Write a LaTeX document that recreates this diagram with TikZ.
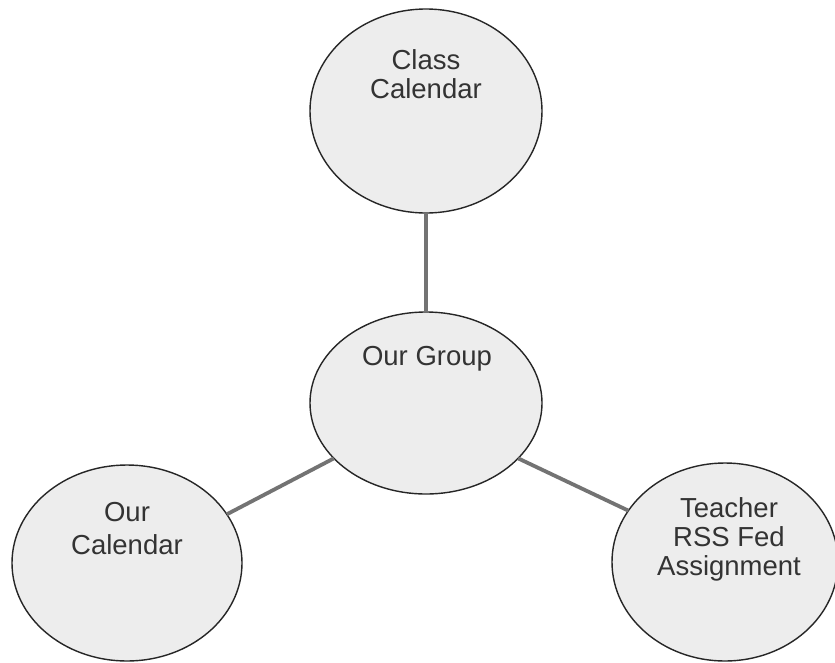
\documentclass[tikz,border=0pt]{standalone}
\usepackage{fontspec}
\setmainfont{Liberation Sans}
\usetikzlibrary{shapes.geometric}
\begin{document}
\begin{tikzpicture}[x=1pt,y=-1pt,
  bubble/.style={ellipse,draw=black!85,line width=1.4pt,fill=black!7,inner sep=0pt,outer sep=0pt},
  lbl/.style={align=center,font=\fontsize{27.5}{29}\selectfont,text=black!80,inner sep=0pt},
  link/.style={draw=black!55,line width=3.8pt}]
\useasboundingbox (0,0) rectangle (835,662);
\fill[white] (0,0) rectangle (835,662);
\node[bubble,minimum width=232pt,minimum height=204pt] (cc) at (426,111) {};
\node[bubble,minimum width=232pt,minimum height=182pt] (g) at (426,403) {};
\node[bubble,minimum width=230pt,minimum height=196pt] (oc) at (127,563) {};
\node[bubble,minimum width=226pt,minimum height=198pt] (t) at (725,562) {};
\draw[link] (g) -- (cc);
\draw[link] (g.211) -- (oc.26);
\draw[link] (g.329) -- (t.152);
\node[lbl] (cct) at (426,74) {Class\\Calendar};
\node[lbl] (gt) at (427,359) {Our Group};
\node[lbl] (oct) at (127,529) {Our\\[4pt]Calendar};
\node[lbl] (tt) at (729,539) {Teacher\\RSS Fed\\Assignment};
\end{tikzpicture}
\end{document}
